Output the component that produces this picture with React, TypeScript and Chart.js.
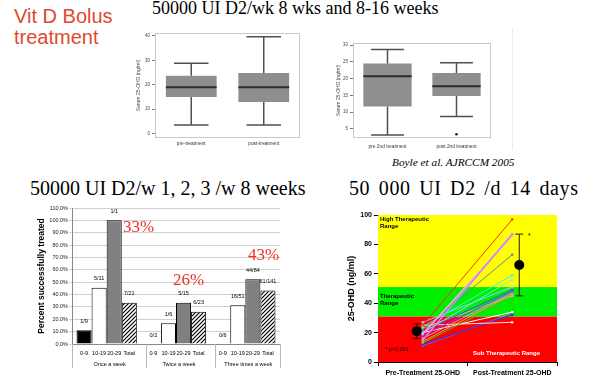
import React, { useEffect, useRef } from "react";
import { Chart, registerables } from "chart.js";

Chart.register(...registerables);

const SANS = "'Liberation Sans', Arial, sans-serif";
const SERIF = "'Liberation Serif', 'Times New Roman', serif";
Chart.defaults.font.family = SANS;
Chart.defaults.color = "#000";

// ================= DATA =================
// Box plot 1 (Serum 25-OHD, ng/ml)
const box1Labels = ["pre-treatment", "post-treatment"];
const box1Min = [3.4, 3.4];
const box1Q1 = [14.9, 12.9];
const box1Median = [18.9, 18.9];
const box1Q3 = [23.7, 24.8];
const box1Max = [28.8, 39.7];
const box1Ticks = [0, 10, 20, 30, 40];

// Box plot 2 (Boyle et al.)
const box2Labels = ["pre 2nd treatment", "post 2nd treatment"];
const box2Min = [3.2, 8.7];
const box2Q1 = [11.7, 14.8];
const box2Median = [20.7, 17.7];
const box2Q3 = [24.5, 21.7];
const box2Max = [28.7, 24.7];
const box2Outlier = [null, 3.4];
const box2Ticks = [5, 10, 15, 20, 25, 30];

// Grouped bars: percent successfully treated
const freqGroups = ["Once a week", "Twice a week", "Three times a week"];
const levelLabels = ["0-9", "10-19", "20-29", "Total"];
const pct0to9 = [11.1, 0, 0];
const pct10to19 = [45.5, 16.7, 31.4];
const pct20to29 = [100, 33.3, 52.4];
const pctTotal = [33.3, 26.1, 43.3];
const frac0to9 = ["1/9", "0/2", "0/6"];
const frac10to19 = ["5/11", "1/6", "16/51"];
const frac20to29 = ["1/1", "5/15", "44/84"];
const fracTotal = ["7/21", "6/23", "61/141"];
const pctTicks = [0, 10, 20, 30, 40, 50, 60, 70, 80, 90, 100, 110];

// Paired lines: 25-OHD before / after
const timepoints = ["Pre-Treatment 25-OHD", "Post-Treatment 25-OHD"];
const subjectPre = [25, 15, 19, 22, 24, 20, 27, 21, 18, 16, 14, 23, 13, 20, 25, 12, 11];
const subjectPost = [97, 87, 86, 73, 59, 56, 51, 49, 48, 47, 46, 45, 44, 34, 27, 32, 33];
const meanLevel = [21, 66];
const meanLow = [16, 45];
const meanHigh = [26, 87];
const bandFrom = [0, 31, 51];
const bandTo = [31, 51, 100];

// ================= STYLES =================
const subjectColors = [
  "#ff3300", "#cc88ff", "#ffaadd", "#5588cc", "#33ffcc", "#66eeff", "#99ccff", "#3355ff", "#9933ff",
  "#cc99cc", "#ff9933", "#cccc55", "#33cc33", "#ffffff", "#ffe0e0", "#3333cc", "#6666ff",
];
const bandColors = ["#ff0000", "#00ee00", "#ffff00"];
const meanOffsets = [-6, 7];

// ================= PLUGINS =================
function framePlugin(color: string) {
  return {
    id: "frame",
    afterDraw(chart: any) {
      const a = chart.chartArea;
      const ctx = chart.ctx;
      ctx.save();
      ctx.strokeStyle = color;
      ctx.lineWidth = 1;
      ctx.strokeRect(a.left + 0.5, a.top + 0.5, a.right - a.left - 1, a.bottom - a.top - 1);
      ctx.restore();
    },
  };
}

function whiskerPlugin(mins: number[], meds: number[], maxs: number[]) {
  return {
    id: "whiskers",
    afterDatasetsDraw(chart: any) {
      const meta = chart.getDatasetMeta(0);
      const y = chart.scales.y;
      const ctx = chart.ctx;
      ctx.save();
      meta.data.forEach((bar: any, i: number) => {
        const p = bar.getProps(["x", "y", "base", "width"], true);
        const top = Math.min(p.y, p.base);
        const bot = Math.max(p.y, p.base);
        const yMax = y.getPixelForValue(maxs[i]);
        const yMin = y.getPixelForValue(mins[i]);
        const yMed = y.getPixelForValue(meds[i]);
        const cap = p.width * 0.34;
        ctx.strokeStyle = "#505050";
        ctx.lineWidth = 1.5;
        ctx.beginPath();
        ctx.moveTo(p.x, top);
        ctx.lineTo(p.x, yMax);
        ctx.moveTo(p.x - cap, yMax);
        ctx.lineTo(p.x + cap, yMax);
        ctx.moveTo(p.x, bot);
        ctx.lineTo(p.x, yMin);
        ctx.moveTo(p.x - cap, yMin);
        ctx.lineTo(p.x + cap, yMin);
        ctx.stroke();
        ctx.strokeStyle = "#2a2a2a";
        ctx.lineWidth = 2;
        ctx.beginPath();
        ctx.moveTo(p.x - p.width / 2, yMed);
        ctx.lineTo(p.x + p.width / 2, yMed);
        ctx.stroke();
      });
      ctx.restore();
    },
  };
}

const barLabelsPlugin = {
  id: "barLabels",
  afterDraw(chart: any) {
    const ctx = chart.ctx;
    const a = chart.chartArea;
    ctx.save();
    ctx.fillStyle = "#000";
    ctx.textAlign = "center";
    ctx.textBaseline = "middle";
    ctx.font = `5.5px ${SANS}`;
    chart.data.datasets.forEach((ds: any, d: number) => {
      const meta = chart.getDatasetMeta(d);
      meta.data.forEach((bar: any, i: number) => {
        const p = bar.getProps(["x", "y"], true);
        ctx.fillText(ds.fractions[i], p.x, p.y - 9);
        ctx.fillText(levelLabels[d], p.x, a.bottom + 9);
      });
    });
    const meta0 = chart.getDatasetMeta(0);
    const meta3 = chart.getDatasetMeta(3);
    ctx.strokeStyle = "#b8b8b8";
    ctx.lineWidth = 1;
    const edges: number[] = [a.left];
    for (let g = 1; g < freqGroups.length; g++) {
      const b = meta0.data[g].getProps(["x", "width"], true);
      edges.push(b.x - b.width / 2);
    }
    edges.push(a.right);
    ctx.beginPath();
    edges.forEach((x) => {
      ctx.moveTo(Math.round(x) + 0.5, a.bottom);
      ctx.lineTo(Math.round(x) + 0.5, a.bottom + 24);
    });
    ctx.stroke();
    freqGroups.forEach((g, i) => {
      const l = meta0.data[i].getProps(["x", "width"], true);
      const r = meta3.data[i].getProps(["x", "width"], true);
      ctx.fillText(g, (l.x - l.width / 2 + r.x + r.width / 2) / 2 + 3, a.bottom + 20);
    });
    ctx.restore();
  },
};

const bandPlugin = {
  id: "bands",
  beforeDatasetsDraw(chart: any) {
    const a = chart.chartArea;
    const y = chart.scales.y;
    const ctx = chart.ctx;
    ctx.save();
    bandFrom.forEach((f, i) => {
      const y0 = y.getPixelForValue(bandTo[i]);
      const y1 = y.getPixelForValue(f);
      ctx.fillStyle = bandColors[i];
      ctx.fillRect(a.left, y0, a.right - a.left, y1 - y0);
    });
    ctx.restore();
  },
};

const meanPlugin = {
  id: "means",
  afterDatasetsDraw(chart: any) {
    const x = chart.scales.x;
    const y = chart.scales.y;
    const ctx = chart.ctx;
    ctx.save();
    meanLevel.forEach((m, i) => {
      const px = x.getPixelForValue(i) + meanOffsets[i];
      const yl = y.getPixelForValue(meanLow[i]);
      const yh = y.getPixelForValue(meanHigh[i]);
      const ym = y.getPixelForValue(m);
      ctx.strokeStyle = "#202000";
      ctx.lineWidth = 1;
      ctx.beginPath();
      ctx.moveTo(px, yl);
      ctx.lineTo(px, yh);
      ctx.moveTo(px - 4, yl);
      ctx.lineTo(px + 4, yl);
      ctx.moveTo(px - 4, yh);
      ctx.lineTo(px + 4, yh);
      ctx.stroke();
      ctx.fillStyle = "#000";
      ctx.beginPath();
      ctx.arc(px, ym, 5, 0, Math.PI * 2);
      ctx.fill();
    });
    ctx.restore();
  },
};

// ================= CONFIGS =================
function boxConfig(
  labels: string[], q1: number[], q3: number[], mins: number[], meds: number[], maxs: number[],
  outliers: (number | null)[] | null, yMin: number, yMax: number, ticks: number[],
  pad: any, yWidth: number, xHeight: number, xPad: number
): any {
  const datasets: any[] = [
    {
      type: "bar",
      data: q1.map((v, i) => [v, q3[i]]),
      backgroundColor: "#8e8e8e",
      borderWidth: 0,
      categoryPercentage: 1,
      barPercentage: 0.7,
    },
  ];
  if (outliers) {
    datasets.push({
      type: "line",
      data: outliers,
      showLine: false,
      pointRadius: 1.3,
      pointBackgroundColor: "#222",
      pointBorderWidth: 0,
    });
  }
  return {
    type: "bar",
    data: { labels, datasets },
    options: {
      responsive: false,
      animation: false,
      layout: { padding: pad },
      plugins: { legend: { display: false }, tooltip: { enabled: false } },
      scales: {
        x: {
          grid: { display: false, drawTicks: false },
          border: { display: false },
          ticks: { font: { size: 4.8 }, color: "#333", padding: xPad, maxRotation: 0, autoSkip: false },
          afterFit: (s: any) => { s.height = xHeight; },
        },
        y: {
          min: yMin,
          max: yMax,
          afterBuildTicks: (s: any) => { s.ticks = ticks.map((v) => ({ value: v })); },
          grid: { drawOnChartArea: false, tickLength: 3, color: "#777" },
          border: { display: false },
          ticks: { font: { size: 4.5 }, color: "#444", padding: 2 },
          title: { display: true, text: "Serum 25-OHD (ng/ml)", font: { size: 5 }, color: "#444", padding: 0 },
          afterFit: (s: any) => { s.width = yWidth; },
        },
      },
    },
    plugins: [whiskerPlugin(mins, meds, maxs), framePlugin("#c8c8c8")],
  };
}

function makeHatch() {
  const c = document.createElement("canvas");
  c.width = 4;
  c.height = 4;
  const g = c.getContext("2d")!;
  g.fillStyle = "#fff";
  g.fillRect(0, 0, 4, 4);
  g.strokeStyle = "#000";
  g.lineWidth = 1.2;
  g.beginPath();
  g.moveTo(0, 4);
  g.lineTo(4, 0);
  g.moveTo(-1, 1);
  g.lineTo(1, -1);
  g.moveTo(3, 5);
  g.lineTo(5, 3);
  g.stroke();
  return g.createPattern(c, "repeat");
}

function barConfig(): any {
  const common = { borderColor: "#000", borderWidth: 1, categoryPercentage: 0.87, barPercentage: 1 };
  return {
    type: "bar",
    data: {
      labels: freqGroups,
      datasets: [
        { ...common, label: levelLabels[0], data: pct0to9, fractions: frac0to9, backgroundColor: "#000" },
        { ...common, label: levelLabels[1], data: pct10to19, fractions: frac10to19, backgroundColor: "#fff" },
        { ...common, label: levelLabels[2], data: pct20to29, fractions: frac20to29, backgroundColor: "#808080" },
        { ...common, label: levelLabels[3], data: pctTotal, fractions: fracTotal, backgroundColor: makeHatch() },
      ],
    },
    options: {
      responsive: false,
      animation: false,
      layout: { padding: { left: 37, right: 20, top: 8, bottom: 0 } },
      plugins: { legend: { display: false }, tooltip: { enabled: false } },
      scales: {
        x: {
          grid: { display: false },
          border: { display: true, color: "#888" },
          ticks: { display: false },
          afterFit: (s: any) => { s.height = 31; },
        },
        y: {
          min: 0,
          max: 110,
          afterBuildTicks: (s: any) => { s.ticks = pctTicks.map((v) => ({ value: v })); },
          grid: { color: "#c4c4c4", lineWidth: 0.8, tickLength: 3 },
          border: { display: true, color: "#888" },
          ticks: { font: { size: 5.5 }, color: "#222", padding: 1, callback: (v: any) => Number(v).toFixed(1) + "%" },
          title: { display: true, text: "Percent successfully treated", font: { size: 8.5, weight: "bold" }, padding: 0 },
          afterFit: (s: any) => { s.width = 35; },
        },
      },
    },
    plugins: [barLabelsPlugin],
  };
}

function lineConfig(): any {
  return {
    type: "line",
    data: {
      labels: timepoints,
      datasets: subjectPre.map((v, i) => ({
        data: [v, subjectPost[i]],
        borderColor: subjectColors[i],
        backgroundColor: subjectColors[i],
        borderWidth: i === 1 || i === 2 ? 1.6 : 1,
        pointStyle: "rect",
        pointRadius: 1.6,
        pointBorderWidth: 0,
      })),
    },
    options: {
      responsive: false,
      animation: false,
      layout: { padding: { left: 26, right: 43, top: 15, bottom: 0 } },
      plugins: { legend: { display: false }, tooltip: { enabled: false } },
      scales: {
        x: {
          offset: true,
          grid: { offset: true, drawOnChartArea: false, tickLength: 4, color: "#000" },
          border: { display: true, color: "#000" },
          ticks: { font: { size: 7, weight: "bold" }, padding: 3, maxRotation: 0, autoSkip: false },
          afterFit: (s: any) => { s.height = 13; },
        },
        y: {
          min: 0,
          max: 100,
          ticks: { stepSize: 20, font: { size: 7, weight: "bold" }, padding: 2 },
          grid: { drawOnChartArea: false, tickLength: 4, color: "#000" },
          border: { display: true, color: "#000" },
          title: { display: true, text: "25-OHD (ng/ml)", font: { size: 9, weight: "bold" }, padding: 0 },
          afterFit: (s: any) => { s.width = 32; },
        },
      },
    },
    plugins: [bandPlugin, meanPlugin],
  };
}

// ================= COMPONENTS =================
function ChartCanvas(props: { left: number; top: number; width: number; height: number; make: () => any }) {
  const ref = useRef<HTMLCanvasElement | null>(null);
  useEffect(() => {
    const chart = new Chart(ref.current as HTMLCanvasElement, props.make());
    return () => chart.destroy();
  }, []);
  return (
    <canvas
      ref={ref}
      width={props.width}
      height={props.height}
      style={{ position: "absolute", left: props.left, top: props.top, width: props.width, height: props.height }}
    />
  );
}

function Txt(props: {
  left: number; top: number; size: number; color?: string; family?: string; bold?: boolean;
  italic?: boolean; lh?: number; ws?: number; ls?: number; children: any;
}) {
  return (
    <div
      style={{
        position: "absolute",
        left: props.left,
        top: props.top,
        fontSize: props.size,
        lineHeight: (props.lh ?? props.size) + "px",
        fontFamily: props.family ?? SERIF,
        color: props.color ?? "#000",
        fontWeight: props.bold ? "bold" : "normal",
        fontStyle: props.italic ? "italic" : "normal",
        wordSpacing: props.ws ?? 0,
        letterSpacing: props.ls ?? 0,
        whiteSpace: "nowrap",
      }}
    >
      {props.children}
    </div>
  );
}

export default function App() {
  return (
    <div style={{ position: "fixed", left: 0, top: 0, width: 600, height: 375, overflow: "hidden", background: "#fff" }}>
      <Txt left={14} top={6} size={20} lh={21} family={SANS} color="#dc4a30">
        Vit D Bolus
        <br />
        treatment
      </Txt>
      <Txt left={152} top={-1} size={18}>50000 UI D2/wk 8 wks and 8-16 weeks</Txt>

      <ChartCanvas left={128} top={28} width={177} height={122}
        make={() => boxConfig(box1Labels, box1Q1, box1Q3, box1Min, box1Median, box1Max, null, -1.9, 41.2, box1Ticks,
          { left: 8, right: 5, top: 5, bottom: 0 }, 19, 12, 3)} />
      <ChartCanvas left={330} top={38} width={166} height={118}
        make={() => boxConfig(box2Labels, box2Q1, box2Q3, box2Min, box2Median, box2Max, box2Outlier, 2.3, 30.6, box2Ticks,
          { left: 6, right: 5, top: 5, bottom: 0 }, 17, 18, 6)} />
      <div style={{ position: "absolute", left: 512, top: 28, width: 1, height: 122, background: "#ececec" }} />
      <Txt left={392} top={157} size={11.3} italic>Boyle et al. AJRCCM 2005</Txt>

      <Txt left={30} top={178} size={20}>50000 UI D2/w 1, 2, 3 /w 8 weeks</Txt>
      <Txt left={349} top={178} size={20} ws={3} ls={0.6}>50 000 UI D2 /d 14 days</Txt>

      <ChartCanvas left={0} top={200} width={300} height={175} make={barConfig} />
      <Txt left={123} top={218} size={17} color="#ee3322">33%</Txt>
      <Txt left={173} top={271} size={17} color="#ee3322">26%</Txt>
      <Txt left={248} top={246} size={17} color="#ee3322">43%</Txt>

      <ChartCanvas left={320} top={200} width={280} height={175} make={lineConfig} />
      <Txt left={380} top={216} size={6} lh={7} bold family={SANS}>
        High Therapeutic
        <br />
        Range
      </Txt>
      <Txt left={380} top={293} size={6} lh={7} bold family={SANS}>
        Therapeutic
        <br />
        Range
      </Txt>
      <Txt left={385} top={347} size={5.5} family={SANS}>* p&lt;0.001</Txt>
      <Txt left={473} top={350} size={6} bold family={SANS} color="#fff">Sub Therapeutic Range</Txt>
      <Txt left={528} top={232} size={7} family={SANS}>*</Txt>
    </div>
  );
}
